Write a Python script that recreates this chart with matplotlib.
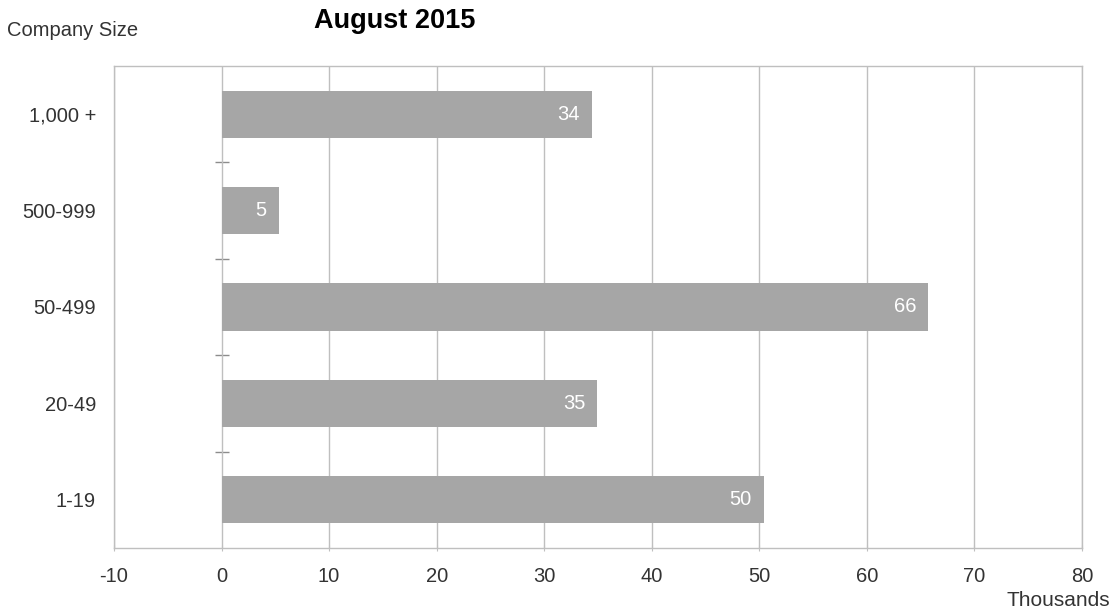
import matplotlib
matplotlib.use("Agg")
import matplotlib.pyplot as plt

# Employment by company size (thousands), August 2015
categories = ["1-19", "20-49", "50-499", "500-999", "1,000 +"]
values = [50.4, 34.9, 65.7, 5.3, 34.4]
x_ticks = [-10, 0, 10, 20, 30, 40, 50, 60, 70, 80]

plt.rcParams["font.family"] = ["Liberation Sans", "DejaVu Sans"]

fig = plt.figure(figsize=(11.13, 6.12), dpi=100)
ax = fig.add_axes([0.1024, 0.1046, 0.8698, 0.7876])

grid_c = "#BFBFBF"
text_c = "#333333"
bar_c = "#A6A6A6"

ypos = list(range(len(categories)))
bars = ax.barh(ypos, values, height=0.49, color=bar_c, zorder=2)

for y, v in zip(ypos, values):
    ax.text(v - 1.1, y, f"{v:.0f}", ha="right", va="center",
            color="white", fontsize=14.5, zorder=3)

xmin, xmax = x_ticks[0], x_ticks[-1]
ax.set_xlim(xmin, xmax)
ax.set_ylim(-0.5, len(categories) - 0.5)
ax.set_xticks(x_ticks)
ax.set_xticklabels([str(t) for t in x_ticks])
ax.xaxis.grid(True, color=grid_c, linewidth=1.0, zorder=0)
ax.set_axisbelow(True)

ax.set_yticks(ypos)
ax.set_yticklabels(categories)
ax.tick_params(axis="y", length=0, pad=13, labelsize=14.5, labelcolor=text_c)
ax.tick_params(axis="x", length=4, direction="inout", color=grid_c,
               pad=12, labelsize=14.5, labelcolor=text_c)

for s in ax.spines.values():
    s.set_color(grid_c)
    s.set_linewidth(1.0)

# Category axis crossing at x = 0 with separator ticks between groups
sec = ax.secondary_yaxis((0 - xmin) / (xmax - xmin))
sec.set_yticks([y + 0.5 for y in ypos[:-1]])
sec.set_yticklabels([])
sec.tick_params(length=10, direction="inout", color="#8C8C8C", width=1.0)
sec.spines["left"].set_visible(False)
sec.spines["right"].set_visible(False)

fig.text(0.3549, 0.966, "August 2015", ha="center", va="center",
         fontsize=19.5, fontweight="bold", color="black")
fig.text(0.006, 0.950, "Company Size", ha="left", va="center",
         fontsize=14.5, color=text_c)
fig.text(0.9975, 0.018, "Thousands", ha="right", va="center",
         fontsize=15, color=text_c)

fig.savefig("out.png", dpi=100)
